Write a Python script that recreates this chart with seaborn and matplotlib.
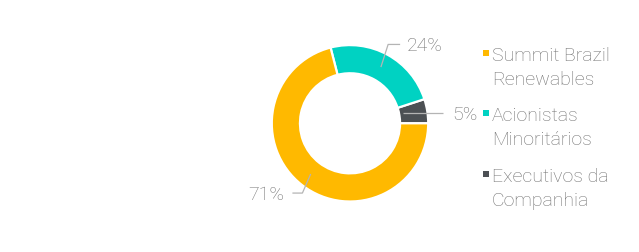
import numpy as np
import matplotlib
matplotlib.use("Agg")
import matplotlib.pyplot as plt
import seaborn as sns
from matplotlib.patches import Rectangle

# ---- data ----
categories = ["Summit Brazil\nRenewables", "Acionistas\nMinoritários", "Executivos da\nCompanhia"]
shares = [71, 24, 5]
colors = ["#FFB900", "#00D2C2", "#4C5054"]

sns.set_theme(style="white")
plt.rcParams["font.family"] = ["Roboto", "DejaVu Sans"]
TXT = "#707070"
LINE = "#B4B4B4"
FS = 14

W, H = 639, 252
fig = plt.figure(figsize=(W / 100, H / 100), dpi=100)
fig.patch.set_facecolor("white")

# donut geometry (pixels, y from top)
cx, cy, R = 350, 123.3, 78.2
lim = 1.5
S = 2 * lim * R
ax = fig.add_axes([(cx - S / 2) / W, (H - cy - S / 2) / H, S / W, S / H])

order = [2, 1, 0]
wedges, _ = ax.pie([shares[i] for i in order],
                   colors=[colors[i] for i in order],
                   startangle=0, counterclock=True, radius=1,
                   wedgeprops=dict(width=0.36, edgecolor="white", linewidth=1.6))
ax.set_xlim(-lim, lim)
ax.set_ylim(-lim, lim)
ax.set_aspect("equal")
ax.axis("off")

u = 1.0 / R  # one pixel in data units
rmid = 0.82
# layout per category: (elbow radius, elbow angle offset, horizontal length px, gap px, side)
layout = {
    0: (1.08, 3.5, 10, 8, -1, False),
    1: (1.12, 3.0, 12, 7, 1, False),
    2: (None, 0.0, 93, 9, 1, True),
}
cap = 14 * u
for w, ci in zip(wedges, order):
    ang = np.deg2rad((w.theta1 + w.theta2) / 2)
    sx, sy = rmid * np.cos(ang), rmid * np.sin(ang)
    er, off, hlen, gap, side, straight = layout[ci]
    if straight:
        sx = 53 * u
        xs = [sx, hlen * u]
        ys = [sy, sy]
    else:
        a2 = ang + np.deg2rad(off) * (1 if side > 0 else 1)
        ex, ey = er * np.cos(a2), er * np.sin(a2)
        xs = [sx, ex, ex + side * hlen * u]
        ys = [sy, ey, ey]
    ax.plot(xs, ys, color=LINE, lw=0.9, solid_capstyle="butt")
    tx = xs[-1] + side * gap * u
    ax.text(tx, ys[-1] - cap / 2, f"{shares[ci]}%", ha="left" if side > 0 else "right",
            va="baseline", fontsize=FS, color=TXT, fontweight="light")

# ---- legend (manual) ----
lx_mark, lx_text = 482.7, 492
base0, entry_gap, line_gap = 60.7, 60.5, 24
for i, (cat, col) in enumerate(zip(categories, colors)):
    b = base0 + i * entry_gap
    mc = b - 8
    fig.patches.append(Rectangle((lx_mark / W, (H - mc - 2.8) / H), 6 / W, 5.6 / H,
                                 transform=fig.transFigure, facecolor=col, edgecolor="none"))
    for j, line in enumerate(cat.split("\n")):
        fig.text(lx_text / W, (H - (b + j * line_gap)) / H, line, ha="left", va="baseline",
                 fontsize=FS, color=TXT, fontweight="light")

fig.savefig("out.png", dpi=100, facecolor="white")
